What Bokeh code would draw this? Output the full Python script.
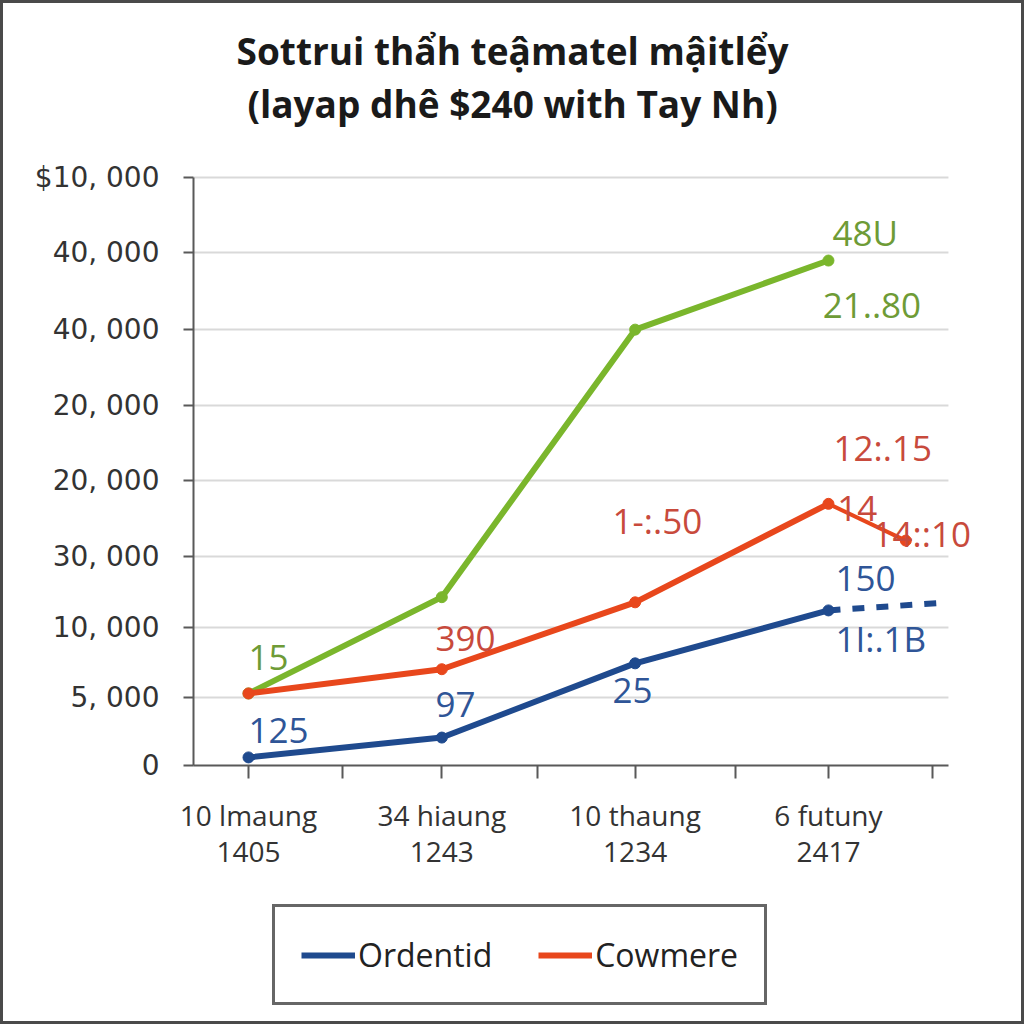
from bokeh.plotting import figure
from bokeh.layouts import column
from bokeh.models import FixedTicker, Label, Legend, LegendItem, Range1d
from bokeh.embed import file_html
from bokeh.resources import INLINE

# ---------------- data ----------------
title_lines = ["Sottrui thẩh teậmatel mậitlểy", "(layap dhê $240 with Tay Nh)"]
categories = ["10 lmaung\n1405", "34 hiaung\n1243", "10 thaung\n1234", "6 futuny\n2417"]
cat_x = [0, 1, 2, 3]
minor_x = [0.486, 1.495, 2.519, 3.538]

y_tick_values = [0, 0.925, 1.878, 2.844, 3.878, 4.898, 5.932, 6.98, 8]
y_tick_labels = ["0", "5, 000", "10, 000", "30, 000", "20, 000", "20, 000",
                 "40, 000", "40, 000", "$10, 000"]

green = [0.98, 2.29, 5.93, 6.87]
red = [0.98, 1.31, 2.22, 3.56]
blue = [0.11, 0.38, 1.39, 2.11]
red_tail_x = [3, 3.40]
red_tail_y = [3.56, 3.06]
blue_tail_x = [3, 3.57]
blue_tail_y = [2.11, 2.21]

series_names = ["Ordentid", "Cowmere"]

# data labels: text, x, y (data units), series
label_texts = ["48U", "21..80", "15", "12:.15", "14", "14::10", "150", "1I:.1B",
               "1-:.50", "390", "97", "125", "25"]
label_series = ["g", "g", "g", "r", "r", "r", "b", "b", "r", "r", "b", "b", "b"]
label_x = [3.021, 2.97, 0.0, 3.026, 3.046, 3.228, 3.036, 3.036, 1.883, 0.967, 0.967, 0.0, 1.883]
label_y = [7.252, 6.259, 1.469, 4.327, 3.497, 3.156, 2.544, 1.728, 3.333, 1.728, 0.830, 0.476, 1.020]

# ---------------- layout / style ----------------
X0, X1, XEND = -0.2845, 3.6207, 3.983
Y0, Y1, YEND = 0, 8, 10.231

GREEN_LINE = "#7ab62c"
RED_LINE = "#e8471c"
BLUE_LINE = "#1f4a8e"
GREEN_TXT = "#6e9b36"
RED_TXT = "#c84a3c"
BLUE_TXT = "#2f5597"
txt_color = {"g": GREEN_TXT, "r": RED_TXT, "b": BLUE_TXT}

p = figure(width=1018, height=880, output_backend="svg", toolbar_location=None,
           x_range=Range1d(X0, XEND), y_range=Range1d(Y0, YEND),
           min_border_left=190, min_border_right=3, min_border_top=10,
           min_border_bottom=118)
p.background_fill_color = "white"
p.border_fill_color = "white"
p.outline_line_color = None

# axes
p.yaxis.ticker = FixedTicker(ticks=y_tick_values)
p.yaxis.bounds = (Y0, Y1)
p.yaxis.major_label_overrides = {v: l for v, l in zip(y_tick_values, y_tick_labels)}
p.yaxis.major_label_text_font = "DejaVu Sans"
p.yaxis.major_label_text_font_size = "28px"
p.yaxis.major_label_text_color = "#333333"
p.yaxis.major_label_standoff = 24
p.yaxis.major_tick_in = 0
p.yaxis.major_tick_out = 10
p.yaxis.minor_tick_line_color = None
p.yaxis.axis_line_color = "#595959"
p.yaxis.axis_line_width = 2
p.yaxis.major_tick_line_color = "#595959"
p.yaxis.major_tick_line_width = 2

xticks = sorted(cat_x + minor_x)
p.xaxis.ticker = FixedTicker(ticks=xticks)
p.xaxis.bounds = (X0, X1)
overrides = {float(v): "" for v in minor_x}
for v, c in zip(cat_x, categories):
    overrides[float(v)] = c
p.xaxis.major_label_overrides = overrides
p.xaxis.major_label_text_font = "Open Sans"
p.xaxis.major_label_text_font_size = "28px"
p.xaxis.major_label_text_line_height = 0.95
p.xaxis.major_label_text_color = "#333333"
p.xaxis.major_label_standoff = 17
p.xaxis.major_tick_in = 0
p.xaxis.major_tick_out = 13
p.xaxis.minor_tick_line_color = None
p.xaxis.axis_line_color = "#595959"
p.xaxis.axis_line_width = 2
p.xaxis.major_tick_line_color = "#595959"
p.xaxis.major_tick_line_width = 2

p.xgrid.grid_line_color = None
p.ygrid.grid_line_color = None
grid_y = y_tick_values[1:]
p.segment(x0=[X0] * len(grid_y), y0=grid_y, x1=[X1] * len(grid_y), y1=grid_y,
          line_color="#d9d9d9", line_width=2)

# series
p.line(cat_x, green, line_color=GREEN_LINE, line_width=6)
p.scatter(cat_x, green, size=11, color=GREEN_LINE)
p.line(red_tail_x, red_tail_y, line_color=RED_LINE, line_width=4)
p.scatter(red_tail_x[1:], red_tail_y[1:], size=11, color=RED_LINE)
p.line(cat_x, red, line_color=RED_LINE, line_width=6)
p.scatter(cat_x, red, size=11, color=RED_LINE)
p.line(blue_tail_x, blue_tail_y, line_color=BLUE_LINE, line_width=6, line_dash="12 12")
p.line(cat_x, blue, line_color=BLUE_LINE, line_width=6)
p.scatter(cat_x, blue, size=11, color=BLUE_LINE)

# data labels
for t, s, x, y in zip(label_texts, label_series, label_x, label_y):
    p.add_layout(Label(x=x, y=y, text=t, text_align="left", text_baseline="middle",
                       text_font="Open Sans", text_font_size="35px",
                       text_color=txt_color[s]))

# title
for t, y in zip(title_lines, [9.728, 9.007]):
    p.add_layout(Label(x=1.366, y=y, text=t, text_align="center", text_baseline="middle",
                       text_font="Open Sans", text_font_style="bold",
                       text_font_size="37px", text_color="#1a1a1a"))

# ---------------- legend strip ----------------
p2 = figure(width=1018, height=138, output_backend="svg", toolbar_location=None,
            x_range=Range1d(0, 1), y_range=Range1d(0, 1),
            x_axis_type=None, y_axis_type=None,
            min_border_left=0, min_border_right=0, min_border_top=0, min_border_bottom=0)
p2.outline_line_color = None
p2.background_fill_color = "white"
p2.border_fill_color = "white"
# single-point proxies (draw nothing) that carry the series styles for the legend
lb = p2.line(x=[cat_x[0]], y=[blue[0]], line_color=BLUE_LINE, line_width=6)
lr = p2.line(x=[cat_x[0]], y=[red[0]], line_color=RED_LINE, line_width=6)

legend = Legend(items=[LegendItem(label=series_names[0], renderers=[lb]),
                       LegendItem(label=series_names[1], renderers=[lr])],
                orientation="horizontal", location=(79, 16))
legend.label_text_font = "Open Sans"
legend.label_text_font_size = "32px"
legend.label_text_color = "#222222"
legend.glyph_width = 54
legend.glyph_height = 40
legend.label_height = 40
legend.label_standoff = 3
legend.spacing = 46
legend.padding = 26
legend.margin = 0
legend.border_line_color = "#666666"
legend.border_line_alpha = 1.0
legend.border_line_width = 3
legend.background_fill_color = "white"
p2.add_layout(legend, "center")

layout = column(p, p2, spacing=0, styles={"border": "3px solid #4a4a4a"})

open("out.html", "w").write(file_html(layout, INLINE))
